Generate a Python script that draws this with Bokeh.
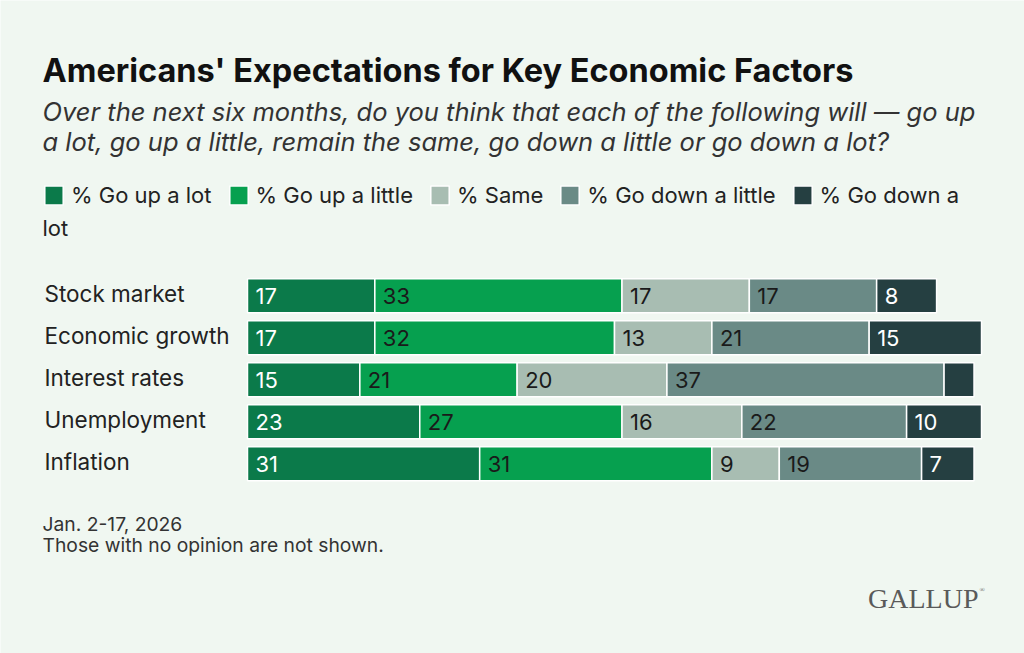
from bokeh.plotting import figure
from bokeh.models import Range1d, Label, Legend, LegendItem, ColumnDataSource
from bokeh.embed import file_html
from bokeh.resources import INLINE
from bokeh.core.properties import value

# ---------------- data ----------------
categories = ["Stock market", "Economic growth", "Interest rates", "Unemployment", "Inflation"]
series_names = ["% Go up a lot", "% Go up a little", "% Same", "% Go down a little", "% Go down a lot"]
up_lot = [17, 17, 15, 23, 31]
up_little = [33, 32, 21, 27, 31]
same = [17, 13, 20, 16, 9]
down_little = [17, 21, 37, 22, 19]
down_lot = [8, 15, 4, 10, 7]
series_values = [up_lot, up_little, same, down_little, down_lot]

title_text = "Americans' Expectations for Key Economic Factors"
subtitle_lines = [
    "Over the next six months, do you think that each of the following will \u2014 go up",
    "a lot, go up a little, remain the same, go down a little or go down a lot?",
]
footer_lines = ["Jan. 2-17, 2026", "Those with no opinion are not shown."]

# ---------------- styles ----------------
BG = "#f0f7f1"
colors = ["#0b7a4a", "#06a04f", "#a8bdb2", "#6a8a86", "#253f41"]
label_colors = ["#ffffff", "#1a1a1a", "#1a1a1a", "#1a1a1a", "#ffffff"]
FONT = "Inter"

W, H = 1024, 653
PX_PER_UNIT = 7.49
X0 = 247          # canvas x of value 0
ROW0 = 295.3      # canvas y of first row centre
PITCH = 42.0

p = figure(
    width=W, height=H,
    x_range=Range1d(-X0 / PX_PER_UNIT, (W - X0) / PX_PER_UNIT),
    y_range=Range1d((H - ROW0) / PITCH, -ROW0 / PITCH),
    output_backend="svg", toolbar_location=None,
    x_axis_location=None, y_axis_location=None,
    min_border=0, background_fill_color=BG, border_fill_color=BG,
    outline_line_color=None,
)
p.grid.visible = False

idx = list(range(len(categories)))
cum = [0] * len(categories)
renderers = []
for k, vals in enumerate(series_values):
    lefts = cum[:]
    rights = [l + v for l, v in zip(lefts, vals)]
    cum = rights
    src = ColumnDataSource(dict(
        y=idx, left=lefts, right=rights,
        lab=[str(v) if v >= 5 else "" for v in vals],
    ))
    r = p.hbar(y="y", left="left", right="right", height=34 / PITCH, source=src,
               fill_color=colors[k], line_color="#ffffff", line_width=1.5)
    renderers.append(r)
    p.text(x="left", y="y", text="lab", source=src, x_offset=8,
           text_baseline="middle", text_align="left",
           text_font=value(FONT), text_font_size="22px", text_color=label_colors[k])

# category labels
cat_src = ColumnDataSource(dict(y=idx, x=[0] * len(idx), t=categories))
p.text(x="x", y="y", text="t", source=cat_src, x_offset=-203, y_offset=-2,
       text_baseline="middle", text_align="left",
       text_font=value(FONT), text_font_size="22.5px", text_color="#222222")

def sy(page_y):
    return H - page_y

def sx(page_x):
    return page_x

def add_label(text, px, py, size, color="#222222", style="normal", align="left",
              baseline="middle", font=FONT):
    p.add_layout(Label(x=sx(px), y=sy(py), x_units="screen", y_units="screen",
                       text=text, text_font=font, text_font_size=size,
                       text_color=color, text_font_style=style,
                       text_align=align, text_baseline=baseline))

add_label(title_text, 42, 70, "32.5px", "#111111", "bold", baseline="alphabetic")
add_label(subtitle_lines[0], 42, 111, "25.5px", "#333333", "italic", baseline="alphabetic")
add_label(subtitle_lines[1], 42, 141, "25.5px", "#333333", "italic", baseline="alphabetic")

# legend
legend_labels = series_names[:4] + ["% Go down a"]
legend = Legend(
    items=[LegendItem(label=lbl, renderers=[r]) for lbl, r in zip(legend_labels, renderers)],
    orientation="horizontal", location=(sx(42), sy(208)),
    glyph_width=23, glyph_height=24, label_standoff=6, spacing=15,
    padding=0, margin=0, border_line_color=None, background_fill_alpha=0,
    label_text_font=FONT, label_text_font_size="22px", label_text_color="#222222",
    label_height=24,
)
p.add_layout(legend, "center")
add_label("lot", 42, 227, "22px", "#222222")

add_label(footer_lines[0], 42, 523, "19.3px", "#333333")
add_label(footer_lines[1], 42, 544, "19.3px", "#333333")

add_label("GALLUP", 978, 598, "28px", "#5a5a5a", align="right", font="Liberation Serif")
add_label("\u00ae", 979, 589, "7px", "#5a5a5a", font="Liberation Serif")

open("out.html", "w").write(file_html(p, INLINE))
